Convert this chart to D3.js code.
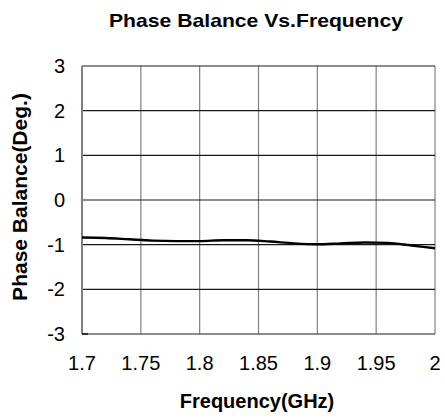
<!DOCTYPE html>
<html lang="en">
<head>
  <meta charset="utf-8">
  <title>Phase Balance Vs.Frequency</title>
  <script src="https://d3js.org/d3.v7.min.js"></script>
  <style>
    body{margin:0;background:#fff;overflow:hidden;}
    svg{display:block;font-family:"Liberation Sans",Arial,sans-serif;}
  </style>
</head>
<body>
  <svg width="445" height="419"></svg>
  <script>
    // data
    var freq = [1.70, 1.72, 1.74, 1.76, 1.78, 1.80, 1.82, 1.84, 1.86, 1.88, 1.90, 1.92, 1.94, 1.96, 1.98, 2.00];
    var phase = [-0.84, -0.85, -0.88, -0.91, -0.92, -0.92, -0.90, -0.90, -0.93, -0.97, -0.99, -0.97, -0.95, -0.96, -1.02, -1.08];
    var xTicks = [1.7, 1.75, 1.8, 1.85, 1.9, 1.95, 2];
    var yTicks = [-3, -2, -1, 0, 1, 2, 3];

    var svg = d3.select("svg");
    var pl = 82, pr = 435, pt = 66, pb = 334;

    var x = d3.scaleLinear().domain([1.7, 2]).range([pl, pr]);
    var y = d3.scaleLinear().domain([-3, 3]).range([pb, pt]);

    // grid
    svg.append("g").selectAll("line").data(xTicks.slice(1)).enter().append("line")
      .attr("x1", d => x(d)).attr("x2", d => x(d))
      .attr("y1", pt).attr("y2", pb)
      .attr("stroke", "#808080").attr("stroke-width", 1.2);
    svg.append("g").selectAll("line").data(yTicks.slice(1)).enter().append("line")
      .attr("x1", pl).attr("x2", pr)
      .attr("y1", d => y(d)).attr("y2", d => y(d))
      .attr("stroke", "#1a1a1a").attr("stroke-width", 1.2);

    // left + bottom axes
    svg.append("line").attr("x1", pl).attr("x2", pl).attr("y1", pt).attr("y2", pb)
      .attr("stroke", "#808080").attr("stroke-width", 2);
    svg.append("line").attr("x1", pl).attr("x2", pr).attr("y1", pb).attr("y2", pb)
      .attr("stroke", "#666").attr("stroke-width", 1.5);
    svg.append("line").attr("x1", pl).attr("x2", pl + 6).attr("y1", pb).attr("y2", pb)
      .attr("stroke", "#111").attr("stroke-width", 1.5);

    // tick labels
    svg.append("g").selectAll("text").data(xTicks).enter().append("text")
      .attr("x", d => x(d)).attr("y", 370)
      .attr("text-anchor", "middle").attr("font-size", 20)
      .text(d => d);
    svg.append("g").selectAll("text").data(yTicks).enter().append("text")
      .attr("x", 65).attr("y", d => y(d) + 7)
      .attr("text-anchor", "end").attr("font-size", 20)
      .text(d => d);

    // data line
    var line = d3.line().x((d, i) => x(freq[i])).y(d => y(d)).curve(d3.curveMonotoneX);
    svg.append("path").datum(phase)
      .attr("d", line).attr("fill", "none")
      .attr("stroke", "#000").attr("stroke-width", 2.4);

    // titles
    svg.append("text").attr("x", 256).attr("y", 27)
      .attr("text-anchor", "middle").attr("font-size", 19).attr("font-weight", "bold")
      .attr("textLength", 294).attr("lengthAdjust", "spacingAndGlyphs")
      .text("Phase Balance Vs.Frequency");
    svg.append("text").attr("x", 257).attr("y", 408)
      .attr("text-anchor", "middle").attr("font-size", 20).attr("font-weight", "bold")
      .text("Frequency(GHz)");
    svg.append("text").attr("transform", "translate(27,197) rotate(-90)")
      .attr("text-anchor", "middle").attr("font-size", 21).attr("font-weight", "bold")
      .text("Phase Balance(Deg.)");
  </script>
</body>
</html>
